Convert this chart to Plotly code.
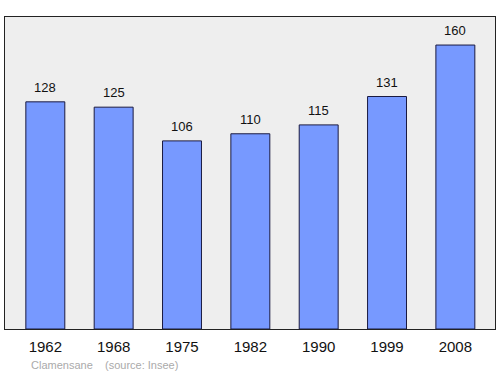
import plotly.graph_objects as go

years = ["1962", "1968", "1975", "1982", "1990", "1999", "2008"]
population = [128, 125, 106, 110, 115, 131, 160]
source_text = "Clamensane    (source: Insee)"

fig = go.Figure()
fig.add_trace(go.Bar(
    x=years, y=population,
    marker=dict(color="#7799ff", line=dict(color="#1a1a40", width=1)),
    width=0.57,
))
for i, v in enumerate(population):
    fig.add_annotation(x=i, y=v, text=str(v), showarrow=False,
                       yanchor="bottom", yshift=5,
                       font=dict(family="Liberation Sans, Arial", size=13, color="#111111"))
fig.add_annotation(xref="paper", yref="paper", x=0.048, y=-0.09, xanchor="left", yanchor="top",
                   text=source_text, showarrow=False,
                   font=dict(family="Liberation Sans, Arial", size=11, color="#aaaaaa"))

fig.update_layout(
    width=500, height=374,
    margin=dict(l=5, r=5, t=17, b=45),
    paper_bgcolor="white", plot_bgcolor="#eeeeee",
    showlegend=False,
    xaxis=dict(type="category", range=[-0.59, 6.58], showgrid=False, zeroline=False,
               showline=True, linecolor="#222222", linewidth=1, mirror=True,
               ticks="outside", ticklen=4, tickcolor="rgba(0,0,0,0)",
               tickfont=dict(family="Liberation Sans, Arial", size=15, color="#111111")),
    yaxis=dict(range=[0, 175.8], showgrid=False, zeroline=False, showticklabels=False,
               showline=True, linecolor="#222222", linewidth=1, mirror=True, ticks=""),
)
fig.write_html("out.html")
